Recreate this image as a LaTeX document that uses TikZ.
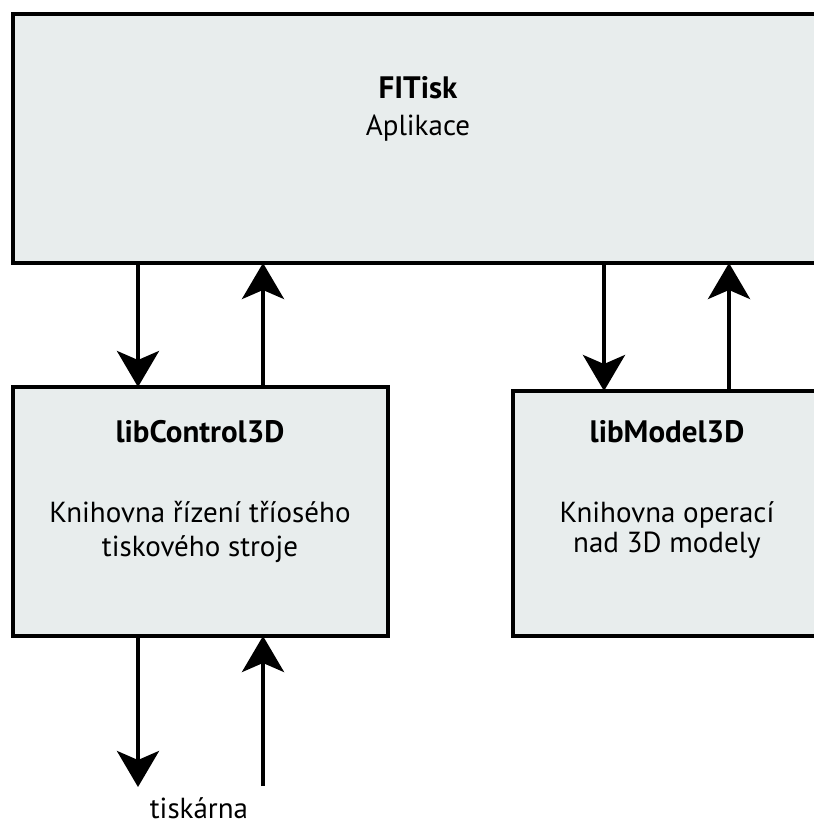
\documentclass[tikz,border=0pt]{standalone}
\usepackage{fontspec}
\setmainfont{PT Sans}
\usetikzlibrary{arrows.meta}
\definecolor{boxfill}{RGB}{232,237,237}
\begin{document}
\begin{tikzpicture}[x=1pt,y=-1pt,
  box/.style={draw=black, line width=4pt, fill=boxfill, rectangle, inner sep=0pt, outer sep=0pt},
  arr/.style={line width=4pt, -{Stealth[length=36pt,width=42pt,inset=9pt]}},
  txt/.style={font=\fontsize{29}{35}\selectfont, inner sep=0pt, anchor=base},
  ttl/.style={font=\fontsize{31}{35}\selectfont\bfseries, inner sep=0pt, anchor=base}]
\useasboundingbox (0,0) rectangle (814,825);
\clip (0,0) rectangle (814,825);
\fill[white] (0,0) rectangle (814,825);
% boxes
\node[box, minimum width=811pt, minimum height=249pt] (top) at (418,138.5) {};
\node[box, minimum width=375pt, minimum height=249pt] (ctrl) at (200.5,511.5) {};
\node[box, minimum width=327pt, minimum height=245pt] (model) at (676.5,513.5) {};
% texts
\node[ttl] (t1) at (418,98) {FITisk};
\node[txt] (t2) at (418,135) {Aplikace};
\node[ttl] (c1t) at (200,442) {libControl3D};
\node[txt] (c1a) at (200,522) {Knihovna řízení tříosého};
\node[txt] (c1b) at (200,556) {tiskového stroje};
\node[ttl] (m1t) at (667,442) {libModel3D};
\node[txt] (m1a) at (667,522) {Knihovna operací};
\node[txt] (m1b) at (667,552) {nad 3D modely};
\node[txt] (prn) at (199,818) {tiskárna};
% connector x positions
\coordinate (xa) at (138,0);
\coordinate (xb) at (263,0);
\coordinate (xc) at (604,0);
\coordinate (xd) at (729,0);
\coordinate (pa) at (138,787);
\coordinate (pb) at (263,786);
% arrows
\draw[arr] (top.south -| xa) -- (ctrl.north -| xa);
\draw[arr] (ctrl.north -| xb) -- (top.south -| xb);
\draw[arr] (top.south -| xc) -- (model.north -| xc);
\draw[arr] (model.north -| xd) -- (top.south -| xd);
\draw[arr] (ctrl.south -| xa) -- (pa);
\draw[arr] (pb) -- (ctrl.south -| xb);
\end{tikzpicture}
\end{document}
